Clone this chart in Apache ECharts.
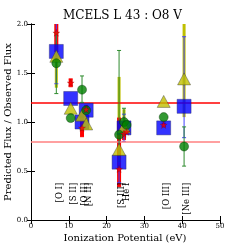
<!DOCTYPE html>
<html><head><meta charset="utf-8">
<script src="https://cdn.jsdelivr.net/npm/echarts@6/dist/echarts.min.js"></script>
<style>html,body{margin:0;padding:0;background:#fff}#c{width:245px;height:245px}</style>
</head><body><div id="c"></div>
<script>
// Ionization potentials (eV) of each line
const lineX = [6.7, 10.5, 13.5, 14.6, 23.3, 24.6, 25.3, 35.1, 40.5];
const lineNames = ['[O I]', '[S II]', '[O II]', '[N II]', '[S III]', 'He I', '', '[O III]', '[Ne III]'];
// Blue squares
const sqY    = [1.72, 1.24, 1.00, 1.12, 0.59, 0.94, null, 0.94, 1.16];
const sqLo   = [1.39, null, null, null, 0.38, 0.80, null, null, 0.84];
const sqHi   = [2.05, null, null, null, 0.80, 1.08, null, null, 1.87];
// Yellow triangles
const triY   = [1.67, 1.14, 1.07, 0.98, 0.72, 0.95, null, 1.21, 1.44];
const triLo  = [1.35, null, null, null, 0.45, 0.90, null, null, 1.05];
const triHi  = [2.05, null, null, null, 1.46, 1.13, null, null, 2.10];
// Green circles
const cirY   = [1.60, 1.04, 1.33, 1.12, 0.87, 1.00, 0.97, 1.05, 0.75];
const cirLo  = [1.29, null, 1.20, null, 0.60, 0.88, null, null, 0.55];
const cirHi  = [1.91, null, 1.47, null, 1.73, 1.14, null, null, 0.95];
// Red stars
const starY  = [1.91, 1.40, 0.94, 1.13, 0.52, 0.88, 0.90, 0.97, null];
const starLo = [1.72, 1.36, 0.85, 1.10, 0.34, 0.82, null, 0.95, null];
const starHi = [2.10, 1.44, 1.09, 1.17, 1.04, 0.98, null, 0.99, null];
// Reference lines
const refHi = 1.2, refLo = 0.8;
const xTicks = [0, 10, 20, 30, 40, 50];
const yTicks = [0, 0.5, 1.0, 1.5, 2.0];

const serif = 'DejaVu Serif';
function pts(ys) { const d = []; lineX.forEach((x, i) => { if (ys[i] != null) d.push([x, ys[i]]); }); return d; }
function errSeries(lo, hi, color, width, cap, z) {
  const data = [];
  lineX.forEach((x, i) => { if (lo[i] != null) data.push([x, lo[i], hi[i]]); });
  return {
    type: 'custom', data, z, clip: true, silent: true, encode: { x: 0, y: [1, 2] },
    renderItem(params, api) {
      const p1 = api.coord([api.value(0), api.value(1)]);
      const p2 = api.coord([api.value(0), api.value(2)]);
      const ch = [{ type: 'line', shape: { x1: p1[0], y1: p1[1], x2: p2[0], y2: p2[1] }, style: { stroke: color, lineWidth: width } }];
      if (cap) {
        [p1, p2].forEach(p => ch.push({ type: 'line', shape: { x1: p[0] - cap, y1: p[1], x2: p[0] + cap, y2: p[1] }, style: { stroke: color, lineWidth: 1 } }));
      }
      return { type: 'group', children: ch };
    }
  };
}
const starPath = 'path://M50,0 L61,35 L98,35 L68,57 L79,91 L50,70 L21,91 L32,57 L2,35 L39,35 Z';
const chart = echarts.init(document.getElementById('c'));
const axisCommon = {
  min: 0, axisLine: { lineStyle: { color: '#000', width: 1 } },
  axisTick: { inside: true, length: 4, lineStyle: { color: '#000' } },
  splitLine: { show: false }
};
chart.setOption({
  animation: false,
  title: { text: 'MCELS L 43 : O8 V', left: 'center', top: 5, textStyle: { fontFamily: serif, fontSize: 12, fontWeight: 'normal', color: '#000' } },
  grid: { left: 31, right: 25, top: 24, bottom: 25 },
  xAxis: [
    Object.assign({}, axisCommon, { type: 'value', max: 50, interval: 10, axisLabel: { fontFamily: serif, fontSize: 7, color: '#000', margin: 3, formatter: v => xTicks.includes(v) ? String(v) : '' } }),
    Object.assign({}, axisCommon, { type: 'value', position: 'top', max: 50, interval: 10, axisLabel: { show: false } })
  ],
  yAxis: [
    Object.assign({}, axisCommon, { type: 'value', max: 2, interval: 0.5, axisLabel: { fontFamily: serif, fontSize: 7, color: '#000', margin: 3, formatter: v => yTicks.includes(v) ? v.toFixed(1) : '' } }),
    Object.assign({}, axisCommon, { type: 'value', position: 'right', max: 2, interval: 0.5, axisLabel: { show: false } })
  ],
  graphic: [
    { type: 'text', x: 125, y: 238, style: { text: 'Ionization Potential (eV)', font: '10px "DejaVu Serif"', fill: '#000', align: 'center', verticalAlign: 'middle' } },
    { type: 'text', x: 8, y: 122, rotation: Math.PI / 2, style: { text: 'Predicted Flux / Observed Flux', font: '10px "DejaVu Serif"', fill: '#000', align: 'center', verticalAlign: 'middle' } }
  ],
  series: [
    {
      type: 'line', data: [], z: 1, silent: true,
      markLine: { symbol: 'none', silent: true, label: { show: false }, data: [
        { yAxis: refHi, lineStyle: { color: '#ff0000', width: 1.5, type: 'solid' } },
        { yAxis: refLo, lineStyle: { color: '#ff8080', width: 1.5, type: 'solid' } }
      ] }
    },
    errSeries(triLo, triHi, '#bfbf00', 3, 0, 2),
    errSeries(starLo, starHi, '#ff0000', 4, 2, 3),
    errSeries(sqLo, sqHi, '#4040ff', 1, 2, 4),
    errSeries(cirLo, cirHi, '#2e8b2e', 1, 2, 5),
    { type: 'scatter', data: pts(sqY), symbol: 'rect', symbolSize: 14, z: 6, itemStyle: { color: '#0000ff', borderColor: '#202060', borderWidth: 0.5 } },
    { type: 'scatter', data: pts(triY), symbol: 'triangle', symbolSize: [13, 12], z: 7, itemStyle: { color: '#bfbf00', borderColor: '#333', borderWidth: 0.5 } },
    { type: 'scatter', data: pts(cirY), symbol: 'circle', symbolSize: 9, z: 8, itemStyle: { color: '#008000', borderColor: '#003000', borderWidth: 0.5 } },
    { type: 'scatter', data: pts(starY), symbol: starPath, symbolSize: 7, z: 9, itemStyle: { color: '#ff0000', borderColor: '#600000', borderWidth: 0.3 } },
    {
      type: 'custom', z: 10, silent: true, encode: { x: 0, y: 1 },
      data: lineX.map((x, i) => [x, 0.38, i]).filter(d => lineNames[d[2]] !== ''),
      renderItem(params, api) {
        const p = api.coord([api.value(0) + 0.8, api.value(1)]);
        return { type: 'text', x: p[0], y: p[1], rotation: Math.PI / 2,
          style: { text: lineNames[api.value(2)], font: '8.5px "DejaVu Serif"', fill: '#000', align: 'right', verticalAlign: 'middle' } };
      }
    }
  ]
});
</script></body></html>
